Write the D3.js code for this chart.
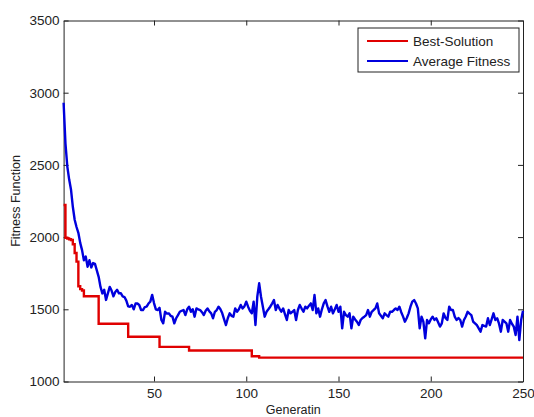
<!DOCTYPE html>
<html>
<head>
<meta charset="utf-8">
<script src="https://cdn.jsdelivr.net/npm/d3@7"></script>
<style>
  html, body { margin: 0; padding: 0; background: #fff; }
  svg { display: block; font-family: "Liberation Sans", Arial, sans-serif; }
</style>
</head>
<body>
<div id="chart"></div>
<script>
// Best-Solution: generation where the best value changes, and the new value
const best_gen = [1, 2, 3, 4, 5, 6, 7, 8, 9, 10, 11, 12, 20, 36, 53, 69, 103, 107, 250];
const best_val = [2222, 1995, 1990, 1985, 1980, 1950, 1890, 1830, 1660, 1640, 1630, 1590, 1400, 1310, 1240, 1215, 1175, 1165, 1165];

// Average Fitness, one value per generation 1..250
const avg_val = [
  2930, 2650, 2490, 2400, 2330, 2210, 2120, 2070, 2030, 1960,
  1910, 1840, 1865, 1795, 1840, 1790, 1820, 1815, 1770, 1725,
  1655, 1610, 1635, 1565, 1610, 1655, 1630, 1590, 1620, 1635,
  1610, 1612, 1590, 1585, 1560, 1520, 1518, 1530, 1500, 1540,
  1540, 1530, 1495, 1495, 1515, 1518, 1540, 1553, 1600, 1543,
  1500, 1495, 1510, 1426, 1403, 1483, 1470, 1472, 1455, 1449,
  1403, 1438, 1460, 1483, 1490, 1495, 1460, 1500, 1518, 1483,
  1500, 1449, 1506, 1500, 1495, 1480, 1460, 1490, 1506, 1485,
  1472, 1438, 1483, 1495, 1518, 1500, 1472, 1430, 1391, 1438,
  1472, 1455, 1449, 1506, 1483, 1500, 1530, 1506, 1520, 1553,
  1518, 1490, 1472, 1553, 1391, 1590, 1680, 1587, 1518, 1449,
  1483, 1500, 1518, 1540, 1564, 1495, 1530, 1505, 1483, 1506,
  1465, 1426, 1495, 1472, 1483, 1495, 1426, 1495, 1530, 1505,
  1483, 1518, 1506, 1525, 1541, 1495, 1599, 1472, 1506, 1449,
  1500, 1541, 1564, 1520, 1483, 1518, 1472, 1500, 1530, 1483,
  1518, 1368, 1483, 1460, 1449, 1472, 1368, 1449, 1430, 1414,
  1391, 1426, 1440, 1449, 1460, 1495, 1449, 1483, 1495, 1506,
  1541, 1472, 1455, 1438, 1472, 1460, 1449, 1483, 1483, 1495,
  1506, 1495, 1518, 1480, 1449, 1414, 1440, 1472, 1518, 1553,
  1564, 1540, 1506, 1368, 1449, 1414, 1299, 1426, 1403, 1430,
  1449, 1426, 1438, 1410, 1380, 1403, 1472, 1440, 1426, 1518,
  1495, 1495, 1449, 1426, 1440, 1426, 1380, 1426, 1450, 1483,
  1470, 1460, 1414, 1403, 1390, 1368, 1345, 1391, 1385, 1380,
  1438, 1391, 1430, 1472, 1426, 1438, 1400, 1345, 1426, 1415,
  1403, 1345, 1426, 1400, 1380, 1322, 1449, 1287, 1426, 1490
];

const x_ticks = [50, 100, 150, 200, 250];
const y_ticks = [1000, 1500, 2000, 2500, 3000, 3500];
const series_names = ["Best-Solution", "Average Fitness"];
const series_colors = ["#e00000", "#0000dd"];

function build_line_chart(svg) {
  const width = 534;
  const height = 417;
  const margin = { top: 20.5, right: 11, bottom: 35.5, left: 63.6 };
  const font_size = 13.5;
  const plain = d3.format("d");

  const best_data = best_gen.map((g, i) => ({ gen: g, value: best_val[i] }));
  const avg_data = avg_val.map((v, i) => ({ gen: i + 1, value: v }));

  const x = d3
    .scaleLinear()
    .domain([ 1, 250 ])
    .range([ margin.left, width - margin.right ]);

  const y = d3
    .scaleLinear()
    .domain([ 1000, 3500 ])
    .range([ height - margin.bottom, margin.top ]);

  // Eixos (ticks para dentro, estilo MATLAB)
  const style_axis = (g) => {
    g.select(".domain").attr("stroke", "#222").attr("stroke-width", 1);
    g.selectAll(".tick line").attr("stroke", "#222");
    g.selectAll(".tick text")
      .attr("fill", "#222")
      .attr("font-size", font_size)
      .attr("font-family", "Liberation Sans, Arial, sans-serif");
  };

  svg.append("g")
    .attr("transform", `translate(0,${ y(1000) })`)
    .call(d3.axisBottom(x).tickValues(x_ticks).tickFormat(plain).tickSizeInner(-5).tickSizeOuter(0).tickPadding(7))
    .call(style_axis);

  svg.append("g")
    .attr("transform", `translate(0,${ y(3500) })`)
    .call(d3.axisTop(x).tickValues(x_ticks).tickSizeInner(-5).tickSizeOuter(0).tickFormat(""))
    .call(style_axis);

  svg.append("g")
    .attr("transform", `translate(${ x(1) },0)`)
    .call(d3.axisLeft(y).tickValues(y_ticks).tickFormat(plain).tickSizeInner(-5).tickSizeOuter(0).tickPadding(4))
    .call(style_axis);

  svg.append("g")
    .attr("transform", `translate(${ x(250) },0)`)
    .call(d3.axisRight(y).tickValues(y_ticks).tickSizeInner(-5).tickSizeOuter(0).tickFormat(""))
    .call(style_axis);

  // Linhas
  const best_line = d3
    .line()
    .x((d) => x(d.gen))
    .y((d) => y(d.value))
    .curve(d3.curveStepAfter);

  const avg_line = d3
    .line()
    .x((d) => x(d.gen))
    .y((d) => y(d.value));

  svg.append("path")
    .datum(avg_data)
    .attr("fill", "none")
    .attr("stroke", series_colors[1])
    .attr("stroke-width", 2.4)
    .attr("stroke-linejoin", "round")
    .attr("d", avg_line);

  svg.append("path")
    .datum(best_data)
    .attr("fill", "none")
    .attr("stroke", series_colors[0])
    .attr("stroke-width", 2.4)
    .attr("d", best_line);

  // Rotulos
  svg.append("text")
    .attr("x", (x(1) + x(250)) / 2)
    .attr("y", 414)
    .attr("text-anchor", "middle")
    .attr("font-size", font_size - 1)
    .attr("fill", "#222")
    .text("Generatin");

  svg.append("text")
    .attr("transform", `translate(20,${ (y(1000) + y(3500)) / 2 }) rotate(-90)`)
    .attr("text-anchor", "middle")
    .attr("font-size", font_size - 1)
    .attr("fill", "#222")
    .text("Fitness Function");

  // Legenda
  const legend = svg.append("g").attr("transform", "translate(358,28)");

  legend.append("rect")
    .attr("width", 161)
    .attr("height", 44)
    .attr("fill", "#fff")
    .attr("stroke", "#222")
    .attr("stroke-width", 1);

  const item = legend
    .selectAll("g")
    .data(series_names)
    .join("g")
    .attr("transform", (d, i) => `translate(0,${ 13 + i * 20 })`);

  item.append("line")
    .attr("x1", 9)
    .attr("x2", 50)
    .attr("stroke", (d, i) => series_colors[i])
    .attr("stroke-width", 2);

  item.append("text")
    .attr("x", 55)
    .attr("dy", "0.35em")
    .attr("font-size", font_size)
    .attr("fill", "#222")
    .text((d) => d);
}

const svg = d3
  .select("#chart")
  .append("svg")
  .attr("width", 534)
  .attr("height", 417);

build_line_chart(svg);
</script>
</body>
</html>
